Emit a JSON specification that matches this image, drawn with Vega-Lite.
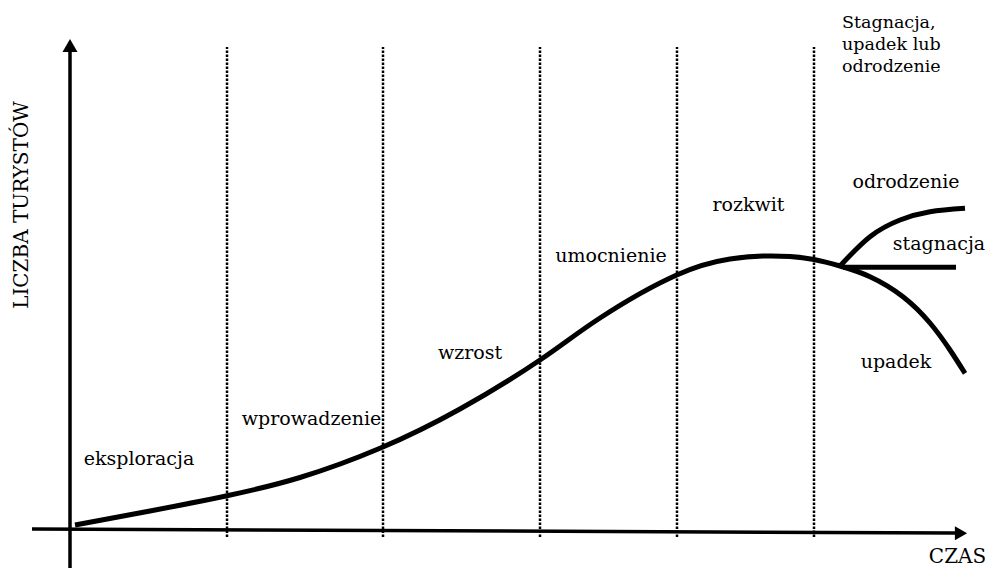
{
  "$schema": "https://vega.github.io/schema/vega-lite/v6.json",
  "width": 992,
  "height": 568,
  "padding": 0,
  "autosize": {"type": "none"},
  "config": {"view": {"stroke": null}},
  "datasets": {
    "krzywa": [
      {"seria": "glowna", "czas": 0.5, "liczba": 0.5},
      {"seria": "glowna", "czas": 8, "liczba": 1.9},
      {"seria": "glowna", "czas": 15.7, "liczba": 3.43},
      {"seria": "glowna", "czas": 23, "liczba": 5.25},
      {"seria": "glowna", "czas": 31, "liczba": 8.17},
      {"seria": "glowna", "czas": 39, "liczba": 12.1},
      {"seria": "glowna", "czas": 47, "liczba": 17},
      {"seria": "glowna", "czas": 53, "liczba": 21.2},
      {"seria": "glowna", "czas": 60.67, "liczba": 25.5},
      {"seria": "glowna", "czas": 66, "liczba": 27.1},
      {"seria": "glowna", "czas": 69.3, "liczba": 27.4},
      {"seria": "glowna", "czas": 72, "liczba": 27.35},
      {"seria": "glowna", "czas": 74.4, "liczba": 27.05},
      {"seria": "glowna", "czas": 77, "liczba": 26.4},
      {"seria": "glowna", "czas": 80, "liczba": 25.33},
      {"seria": "glowna", "czas": 83.3, "liczba": 23.33},
      {"seria": "glowna", "czas": 86, "liczba": 20.7},
      {"seria": "glowna", "czas": 88, "liczba": 18},
      {"seria": "glowna", "czas": 89.5, "liczba": 15.67},
      {"seria": "odrodzenie", "czas": 77, "liczba": 26.4},
      {"seria": "odrodzenie", "czas": 80, "liczba": 29.33},
      {"seria": "odrodzenie", "czas": 83, "liczba": 31},
      {"seria": "odrodzenie", "czas": 86, "liczba": 31.83},
      {"seria": "odrodzenie", "czas": 89.5, "liczba": 32.17},
      {"seria": "stagnacja", "czas": 77.3, "liczba": 26.27},
      {"seria": "stagnacja", "czas": 88.6, "liczba": 26.27}
    ],
    "fazy": [
      {"czas": 15.7, "od": -0.7, "do": 48.3},
      {"czas": 31.3, "od": -0.7, "do": 48.3},
      {"czas": 47, "od": -0.7, "do": 48.3},
      {"czas": 60.7, "od": -0.7, "do": 48.3},
      {"czas": 74.4, "od": -0.7, "do": 48.3}
    ],
    "osie": [
      {"os": "pozioma", "czas": -3.8, "liczba": 0.1},
      {"os": "pozioma", "czas": 88.5, "liczba": -0.3},
      {"os": "pionowa", "czas": 0, "liczba": -3.8},
      {"os": "pionowa", "czas": 0, "liczba": 47.8}
    ],
    "groty": [
      {"os": "pionowa", "czas": 0, "liczba": 48.45},
      {"os": "pozioma", "czas": 89.1, "liczba": -0.33}
    ],
    "etykiety": [
      {"tekst": "eksploracja", "czas": 6.9, "liczba": 6.5},
      {"tekst": "wprowadzenie", "czas": 24.15, "liczba": 10.5},
      {"tekst": "wzrost", "czas": 40, "liczba": 17.1},
      {"tekst": "umocnienie", "czas": 54.1, "liczba": 26.83},
      {"tekst": "rozkwit", "czas": 67.85, "liczba": 31.93},
      {"tekst": "odrodzenie", "czas": 83.6, "liczba": 34.2},
      {"tekst": "stagnacja", "czas": 86.9, "liczba": 28},
      {"tekst": "upadek", "czas": 82.6, "liczba": 16.2}
    ],
    "os_czasu": [
      {"tekst": "CZAS", "czas": 88.75, "liczba": -3.3}
    ],
    "naglowek": [
      {"tekst": "Stagnacja,\nupadek lub\nodrodzenie", "czas": 77.2, "liczba": 50.2}
    ],
    "tytul": [
      {"tekst": "LICZBA TURYSTÓW", "czas": -4.17, "liczba": 32.5}
    ]
  },
  "encoding": {
    "x": {"field": "czas", "type": "quantitative", "scale": {"domain": [-7, 92.2], "nice": false, "zero": false}, "axis": null},
    "y": {"field": "liczba", "type": "quantitative", "scale": {"domain": [-3.8, 53], "nice": false, "zero": false}, "axis": null}
  },
  "layer": [
    {
      "data": {"name": "fazy"},
      "mark": {"type": "rule", "color": "#000000", "strokeWidth": 2.5, "strokeDash": [2.5, 1.5]},
      "encoding": {"y": {"field": "od", "type": "quantitative"}, "y2": {"field": "do"}}
    },
    {
      "data": {"name": "osie"},
      "mark": {"type": "line", "color": "#000000", "strokeWidth": 3.5},
      "encoding": {"detail": {"field": "os", "type": "nominal"}}
    },
    {
      "data": {"name": "groty"},
      "transform": [{"filter": "datum.os === 'pionowa'"}],
      "mark": {"type": "point", "shape": "triangle-up", "filled": true, "color": "#000000", "size": 225, "opacity": 1}
    },
    {
      "data": {"name": "groty"},
      "transform": [{"filter": "datum.os === 'pozioma'"}],
      "mark": {"type": "point", "shape": "triangle-right", "filled": true, "color": "#000000", "size": 200, "opacity": 1}
    },
    {
      "data": {"name": "krzywa"},
      "mark": {"type": "line", "color": "#000000", "strokeWidth": 5, "interpolate": "natural", "strokeCap": "butt"},
      "encoding": {"detail": {"field": "seria", "type": "nominal"}}
    },
    {
      "data": {"name": "etykiety"},
      "mark": {"type": "text", "align": "center", "baseline": "alphabetic", "font": "DejaVu Serif", "fontSize": 19, "color": "#000000"},
      "encoding": {"text": {"field": "tekst", "type": "nominal"}}
    },
    {
      "data": {"name": "os_czasu"},
      "mark": {"type": "text", "align": "center", "baseline": "alphabetic", "font": "DejaVu Serif", "fontSize": 20, "color": "#000000"},
      "encoding": {"text": {"field": "tekst", "type": "nominal"}}
    },
    {
      "data": {"name": "naglowek"},
      "mark": {"type": "text", "align": "left", "baseline": "alphabetic", "font": "DejaVu Serif", "fontSize": 17.5, "lineHeight": 22, "lineBreak": "\n", "color": "#000000"},
      "encoding": {"text": {"field": "tekst", "type": "nominal"}}
    },
    {
      "data": {"name": "tytul"},
      "mark": {"type": "text", "align": "center", "baseline": "alphabetic", "angle": 270, "font": "DejaVu Serif", "fontSize": 20, "color": "#000000"},
      "encoding": {"text": {"field": "tekst", "type": "nominal"}}
    }
  ]
}
